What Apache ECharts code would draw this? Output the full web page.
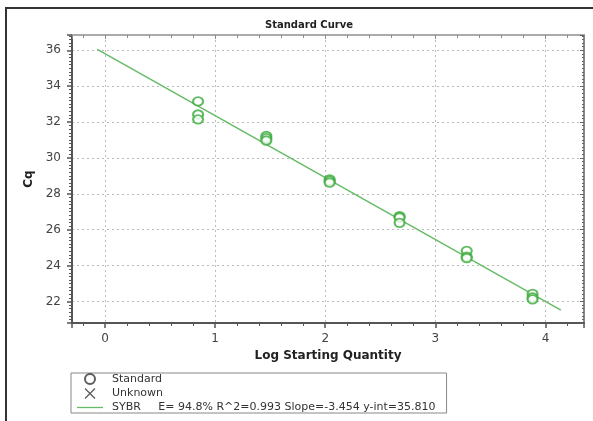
<!DOCTYPE html>
<html>
<head>
<meta charset="utf-8">
<script src="https://cdn.jsdelivr.net/npm/echarts@6/dist/echarts.min.js"></script>
<style>
html,body{margin:0;padding:0;background:#fff;}
#frame{position:absolute;left:5px;top:7px;width:600px;height:420px;border-left:2px solid #333;border-top:2px solid #333;}
#chart{position:absolute;left:0;top:0;width:593px;height:421px;}
</style>
</head>
<body>
<div id="frame"></div>
<div id="chart"></div>
<script>
// Standard points: x = log starting quantity, y = Cq
const stdX = [0.845, 0.845, 0.845, 1.465, 1.465, 1.465, 2.04, 2.04, 2.04, 2.675, 2.675, 2.675, 3.285, 3.285, 3.285, 3.883, 3.883, 3.883];
const stdY = [33.15, 32.42, 32.15, 31.22, 31.1, 30.97, 28.8, 28.72, 28.62, 26.75, 26.68, 26.38, 24.82, 24.5, 24.42, 22.42, 22.22, 22.12];
// Fitted line endpoints
const fitX = [-0.07, 4.14];
const fitY = [36.05, 21.52];
const xTicks = [0, 1, 2, 3, 4];
const yTicks = [22, 24, 26, 28, 30, 32, 34, 36];
const legendNames = ['Standard', 'Unknown', 'SYBR     E= 94.8% R^2=0.993 Slope=-3.454 y-int=35.810'];
const titleText = 'Standard Curve';
const xName = 'Log Starting Quantity';
const yName = 'Cq';

const FONT = 'DejaVu Sans';
const chart = echarts.init(document.getElementById('chart'));
const axisCol = '#555';
const grid = {type: [2, 3], color: '#bbb', width: 1};
const option = {
  animation: false,
  title: {
    text: titleText, left: 304, top: 15, textAlign: 'center',
    textStyle: {fontSize: 10, fontWeight: 'bold', color: '#222', fontFamily: FONT}
  },
  grid: {left: 72, right: 9, top: 35, bottom: 98},
  legend: {
    orient: 'vertical', left: 71, bottom: 8,
    padding: [0, 11, 0, 6], itemGap: 1, itemWidth: 26, itemHeight: 10,
    borderColor: '#888', borderWidth: 1,
    textStyle: {fontSize: 11, color: '#333', fontFamily: FONT, padding: [0, 0, 0, 4]},
    selectedMode: false,
    data: [
      {name: legendNames[0], icon: 'emptyCircle', itemStyle: {color: '#333', borderColor: '#333', borderWidth: 1}},
      {name: legendNames[1], icon: 'path://M0,0L10,10M10,0L0,10', itemStyle: {color: 'none', borderColor: '#333', borderWidth: 1.3}},
      {name: legendNames[2], icon: 'path://M0,0L26,0L26,1.3L0,1.3Z', itemStyle: {color: '#66bb66', borderWidth: 0}}
    ]
  },
  xAxis: [
    {
      type: 'value', position: 'bottom', min: -0.3, max: 4.35, splitNumber: 5,
      axisLine: {show: true, onZero: false, lineStyle: {color: axisCol, width: 2}},
      axisTick: {show: true, length: 5, lineStyle: {color: axisCol, width: 1.5}},
      minorTick: {show: true, splitNumber: 5, length: 3, lineStyle: {color: axisCol}},
      axisLabel: {color: '#444', fontSize: 12, margin: 10, fontFamily: FONT,
        formatter: v => xTicks.includes(v) ? String(v) : ''},
      splitLine: {show: true, lineStyle: grid},
      name: xName, nameLocation: 'middle', nameGap: 27,
      nameTextStyle: {fontSize: 12, fontWeight: 'bold', color: '#222', fontFamily: FONT}
    },
    {
      type: 'value', position: 'top', min: -0.3, max: 4.35, splitNumber: 5,
      axisLine: {show: true, onZero: false, lineStyle: {color: '#aaa', width: 2}},
      axisTick: {show: true, inside: true, length: 4, lineStyle: {color: '#888'}},
      minorTick: {show: true, splitNumber: 5, length: 3, lineStyle: {color: '#888'}},
      axisLabel: {show: false}, splitLine: {show: false}
    }
  ],
  yAxis: [
    {
      type: 'value', position: 'left', min: 20.8, max: 36.85, splitNumber: 8,
      axisLine: {show: true, onZero: false, lineStyle: {color: axisCol, width: 2}},
      axisTick: {show: true, length: 5, lineStyle: {color: axisCol, width: 1.5}},
      minorTick: {show: true, splitNumber: 10, length: 3, lineStyle: {color: axisCol}},
      axisLabel: {color: '#444', fontSize: 12, margin: 11, fontFamily: FONT,
        formatter: v => yTicks.includes(v) ? String(v) : ''},
      splitLine: {show: true, lineStyle: grid},
      name: yName, nameLocation: 'middle', nameGap: 36, nameRotate: 90,
      nameTextStyle: {fontSize: 12, fontWeight: 'bold', color: '#222', fontFamily: FONT}
    },
    {
      type: 'value', position: 'right', min: 20.8, max: 36.85, splitNumber: 8,
      axisLine: {show: true, onZero: false, lineStyle: {color: '#888', width: 2}},
      axisTick: {show: true, inside: true, length: 4, lineStyle: {color: '#666'}},
      minorTick: {show: true, splitNumber: 10, length: 2, lineStyle: {color: '#666'}},
      axisLabel: {show: false}, splitLine: {show: false}
    }
  ],
  series: [
    {
      name: legendNames[0], type: 'scatter', symbol: 'emptyCircle', symbolSize: [10, 8.5],
      itemStyle: {color: '#3aaa3a', borderWidth: 1.1},
      data: stdX.map((x, i) => [x, stdY[i]]), z: 3
    },
    {
      name: legendNames[1], type: 'scatter', symbol: 'path://M0,0L10,10M10,0L0,10',
      itemStyle: {color: 'none', borderColor: '#333'}, data: []
    },
    {
      name: legendNames[2], type: 'line', symbol: 'none', showSymbol: false,
      lineStyle: {color: '#66bb66', width: 1.5}, itemStyle: {color: '#66bb66'},
      data: fitX.map((x, i) => [x, fitY[i]]), z: 2
    }
  ]
};
chart.setOption(option);
</script>
</body>
</html>
